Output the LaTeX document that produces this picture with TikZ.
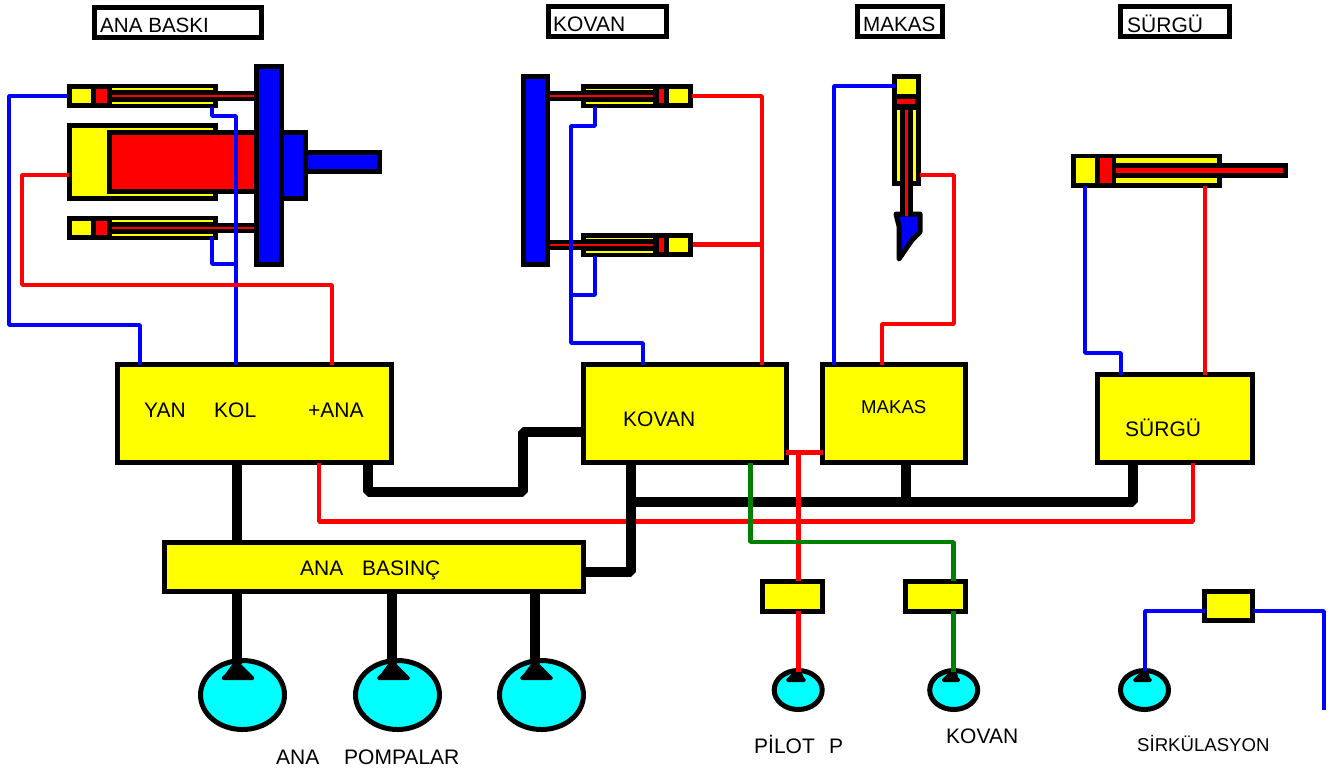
\documentclass[tikz,border=0pt]{standalone}
\usepackage{fontspec}
\setmainfont{Liberation Sans}
\usetikzlibrary{shapes.geometric,calc}
\definecolor{cyl}{RGB}{255,255,0}
\definecolor{rd}{RGB}{255,0,0}
\definecolor{bl}{RGB}{0,0,255}
\definecolor{gr}{RGB}{0,128,0}
\definecolor{cy}{RGB}{0,255,255}
\tikzset{
 x=1pt,y=-1pt,
 mainbox/.style={draw=black,fill=cyl,line width=5pt,rectangle,inner sep=0pt,outer sep=0pt},
 titlebox/.style={draw=black,fill=white,line width=5pt,rectangle,inner sep=0pt,outer sep=0pt},
 pump/.style={draw=black,fill=cy,line width=5pt,ellipse,inner sep=0pt,outer sep=0pt},
 lbl/.style={inner sep=0pt,font=\fontsize{21}{24}\selectfont,text=black},
 tlbl/.style={inner sep=0pt,font=\fontsize{20.6}{24}\selectfont,text=black},
 slbl/.style={inner sep=0pt,font=\fontsize{18.6}{22}\selectfont,text=black},
 bluew/.style={draw=bl,line width=4.5pt,line join=bevel},
 redw/.style={draw=rd,line width=4.5pt,line join=bevel},
 greenw/.style={draw=gr,line width=4.5pt,line join=bevel},
 blackw/.style={draw=black,line width=10pt,line join=bevel},
 glyph/.style={fill=black,draw=black,line width=2pt,line join=round},
}
\newcommand{\rc}[5]{\fill[#1] (#2,#3) rectangle (#4,#5);}
\newcommand{\hcylL}[1]{%
 \rc{black}{66.5}{#1}{218}{#1+24}
 \rc{cyl}{71.5}{#1+5}{91}{#1+19}
 \rc{rd}{96}{#1+5}{107}{#1+19}
 \rc{cyl}{112}{#1+4}{213}{#1+6}
 \rc{cyl}{112}{#1+18}{213}{#1+20}
 \rc{black}{218}{#1+7}{254}{#1+17}
 \rc{rd}{112}{#1+11}{254}{#1+13}
}
\newcommand{\hcylR}[1]{%
 \rc{black}{580.5}{#1}{693}{#1+24}
 \rc{cyl}{669}{#1+5}{688}{#1+19}
 \rc{rd}{658.5}{#1+5}{664}{#1+19}
 \rc{cyl}{586}{#1+4.5}{653}{#1+6}
 \rc{cyl}{586}{#1+18}{653}{#1+19.5}
 \rc{black}{550}{#1+7}{581}{#1+17}
 \rc{rd}{550}{#1+11}{653}{#1+13}
}
% x of the neck, tip y, left reach, right reach, bottom y
\newcommand{\pumpglyph}[5]{%
 \filldraw[glyph] (#1-2,#2) -- (#1+2,#2) -- (#1+#4-3,#5-4) -- (#1+#4-1,#5-2) -- (#1+#4-2,#5-1) -- (#1-#3+2,#5-1) -- (#1-#3+1,#5-2) -- (#1-#3+5,#5-6) -- cycle;
}
\begin{document}
\begin{tikzpicture}
\useasboundingbox (0,0) rectangle (1338,769);
\fill[white] (0,0) rectangle (1338,769);

% --- ANA BASKI group ---
\hcylL{84}
\hcylL{216}
\rc{black}{66.5}{123}{218}{201}
\rc{cyl}{71.5}{128}{213}{196}
\rc{black}{107}{130}{254}{194}
\rc{rd}{112}{135}{254}{189}
\rc{black}{279}{130}{308}{201}
\rc{bl}{284}{135}{303}{196}
\rc{black}{303}{150}{382}{174}
\rc{bl}{308}{155}{377}{169}
\rc{black}{254}{64}{284}{267}
\rc{bl}{259}{69}{279}{262}

% --- KOVAN group ---
\hcylR{84}
\hcylR{233}
\rc{black}{521}{74}{550}{267}
\rc{bl}{526}{79}{545}{262}

% --- MAKAS cylinder ---
\rc{black}{892}{74}{920.5}{186}
\rc{cyl}{896.5}{79}{916}{94}
\rc{rd}{896.5}{99}{915}{104}
\rc{cyl}{897}{110}{899.5}{181}
\rc{cyl}{913}{110}{916}{181}
\rc{black}{900}{186}{913}{215}
\filldraw[fill=bl,draw=black,line width=5pt,line join=round]
  (896,214) -- (920,214) -- (920,232) -- (912,240) -- (899,259) -- (899,226) -- cycle;
\rc{rd}{905}{110}{908}{216}

% --- SURGU cylinder ---
\rc{black}{1071}{153.5}{1222}{188}
\rc{cyl}{1076}{158}{1095}{183}
\rc{rd}{1100}{158}{1112}{183}
\rc{cyl}{1116}{158}{1217}{163}
\rc{cyl}{1116}{178}{1217}{183}
\rc{black}{1222}{163}{1288}{178}
\rc{rd}{1116}{168}{1283}{173}

% --- main boxes ---
\node[mainbox,minimum width=274pt,minimum height=98pt] (yan) at (254.5,413.5) {};
\node[mainbox,minimum width=202.8pt,minimum height=98pt] (kov) at (684.6,413.5) {};
\node[mainbox,minimum width=143.3pt,minimum height=98pt] (mak) at (894.2,413.5) {};
\node[mainbox,minimum width=155pt,minimum height=88pt] (sur) at (1175,418.5) {};
\node[mainbox,minimum width=418.7pt,minimum height=49.5pt] (bas) at (373.85,566.75) {};
\node[mainbox,minimum width=60pt,minimum height=30pt] (v1) at (792.5,596.2) {};
\node[mainbox,minimum width=60pt,minimum height=30pt] (v2) at (935.8,596.2) {};
\node[mainbox,minimum width=48pt,minimum height=29pt] (v3) at (1228.5,606) {};

% --- pumps ---
\node[pump,minimum width=84pt,minimum height=69pt] (p1) at (242.5,695) {};
\node[pump,minimum width=84pt,minimum height=69pt] (p2) at (397.5,695) {};
\node[pump,minimum width=84pt,minimum height=69pt] (p3) at (541.5,695) {};
\node[pump,minimum width=48pt,minimum height=39pt] (p4) at (798.2,690) {};
\node[pump,minimum width=48pt,minimum height=39pt] (p5) at (953.7,690) {};
\node[pump,minimum width=48pt,minimum height=39pt] (p6) at (1144.5,690) {};
\pumpglyph{236.5}{663}{15}{18}{680}
\pumpglyph{392}{663}{15}{18}{680}
\pumpglyph{535}{663}{15}{18}{680}
\pumpglyph{798}{671}{12}{8}{682}
\pumpglyph{953.7}{671}{12}{6.5}{682}
\pumpglyph{1145}{671}{12}{7}{682}

% --- ports ---
\coordinate (c1a) at (68,96);
\coordinate (c1b) at (212,107);
\coordinate (c2b) at (212,237);
\coordinate (mainp) at (69,175);
\coordinate (c3r) at (692,96);
\coordinate (c4r) at (693,244.5);
\coordinate (c3b) at (595,107);
\coordinate (c4b) at (595,256);
\coordinate (mkb) at (895,86);
\coordinate (mkr) at (920,175);
\coordinate (sgb) at (1085,186);
\coordinate (sgr) at (1205,186);
\coordinate (j1) at (236,264);
\coordinate (j2) at (571,295);
\coordinate (j3) at (762,244.5);
\coordinate (j4) at (798.3,452.7);
\coordinate (j5) at (631,502);
\coordinate (j6) at (906,502);

% --- blue lines ---
\draw[bluew] (c1a) -- (9,96) -- (9,325) -- (140,325) -- (yan.north -| 140,0);
\draw[bluew] (c1b) -- (212,116) -- (236,116) -- (yan.north -| 236,0);
\draw[bluew] (c2b) -- (212,264) -- (j1);
\draw[bluew] (c3b) -- (595,126) -- (571,126) -- (571,343) -- (643,343) -- (kov.north -| 643,0);
\draw[bluew] (c4b) -- (595,295) -- (j2);
\draw[bluew] (mkb) -- (834,86) -- (mak.north -| 834,0);
\draw[bluew] (sgb) -- (1085,353) -- (1121,353) -- (sur.north -| 1121,0);
\draw[bluew] (p6.north -| 1145,0) -- (1145,611) -- (v3.west |- 0,611);
\draw[bluew] (v3.east |- 0,611) -- (1324,611) -- (1324,710);

% --- red line under the black ones ---
\draw[redw] (yan.south -| 319,0) -- (319,521.5) -- (1193,521.5) -- (sur.south -| 1193,0);

% --- black lines ---
\draw[blackw] (yan.south -| 237,0) -- (bas.north -| 237,0);
\draw[blackw] (yan.south -| 368,0) -- (368,492) -- (523,492) -- (523,432) -- (kov.west |- 0,432);
\draw[blackw] (kov.south -| 631,0) -- (631,571.7) -- (bas.east |- 0,571.7);
\draw[blackw] (j5) -- (1133,502) -- (sur.south -| 1133,0);
\draw[blackw] (mak.south -| 906,0) -- (j6);
\draw[blackw] (bas.south -| 237,0) -- (237,664);
\draw[blackw] (bas.south -| 392,0) -- (392,664);
\draw[blackw] (bas.south -| 535,0) -- (535,664);

% --- red lines ---
\draw[redw] (mainp) -- (22,175) -- (22,285) -- (332,285) -- (yan.north -| 332,0);
\draw[redw] (c3r) -- (762,96) -- (kov.north -| 762,0);
\draw[redw] (c4r) -- (j3);
\draw[redw] (mkr) -- (954,175) -- (954,324) -- (882,324) -- (mak.north -| 882,0);
\draw[redw] (sgr) -- (sur.north -| 1205,0);
\draw[redw] (kov.east |- 0,452.7) -- (mak.west |- 0,452.7);
\draw[redw] (j4) -- (v1.north -| 798.3,0);
\draw[redw] (v1.south -| 798.3,0) -- (798.3,672);

% --- green lines ---
\draw[greenw] (750.3,463) -- (750.3,542) -- (953.7,542) -- (v2.north -| 953.7,0);
\draw[greenw] (v2.south -| 953.7,0) -- (953.7,672);

% --- titles ---
\node[titlebox,minimum width=167.3pt,minimum height=30pt] (t1) at (178.15,22.5) {};
\node[titlebox,minimum width=118.5pt,minimum height=30pt] (t2) at (607.25,21.5) {};
\node[titlebox,minimum width=85pt,minimum height=30pt] (t3) at (900,21.5) {};
\node[titlebox,minimum width=109pt,minimum height=30pt] (t4) at (1175,21.5) {};
\node[tlbl,anchor=base west] (l1) at (100,32.3) {ANA BASKI};
\node[lbl,anchor=base west] (l2) at (553,31.5) {KOVAN};
\node[tlbl,anchor=base west] (l3) at (863,31.7) {MAKAS};
\node[lbl,anchor=base west] (l4) at (1127,32) {SÜRGÜ};

% --- box texts ---
\node[lbl,anchor=base west] (y1) at (144,417) {YAN};
\node[lbl,anchor=base west] (y2) at (214,417) {KOL};
\node[lbl,anchor=base west] (y3) at (308,417) {+ANA};
\node[lbl,anchor=base west] (k1) at (623,426) {KOVAN};
\node[slbl,anchor=base west] (m1) at (861,413) {MAKAS};
\node[lbl,anchor=base west] (s1) at (1125,436) {SÜRGÜ};
\node[lbl,anchor=base west] (b1) at (300,575) {ANA};
\node[lbl,anchor=base west] (b2) at (362,575) {BASINÇ};
\node[lbl,anchor=base west] (a1) at (276,764) {ANA};
\node[lbl,anchor=base west] (a2) at (344,764) {POMPALAR};
\node[lbl,anchor=base west] (a3) at (754,753) {PİLOT};
\node[lbl,anchor=base west] (a4) at (829,753) {P};
\node[lbl,anchor=base west] (a5) at (946,743.5) {KOVAN};
\node[slbl,anchor=base west] (a6) at (1137,751) {SİRKÜLASYON};
\end{tikzpicture}
\end{document}
